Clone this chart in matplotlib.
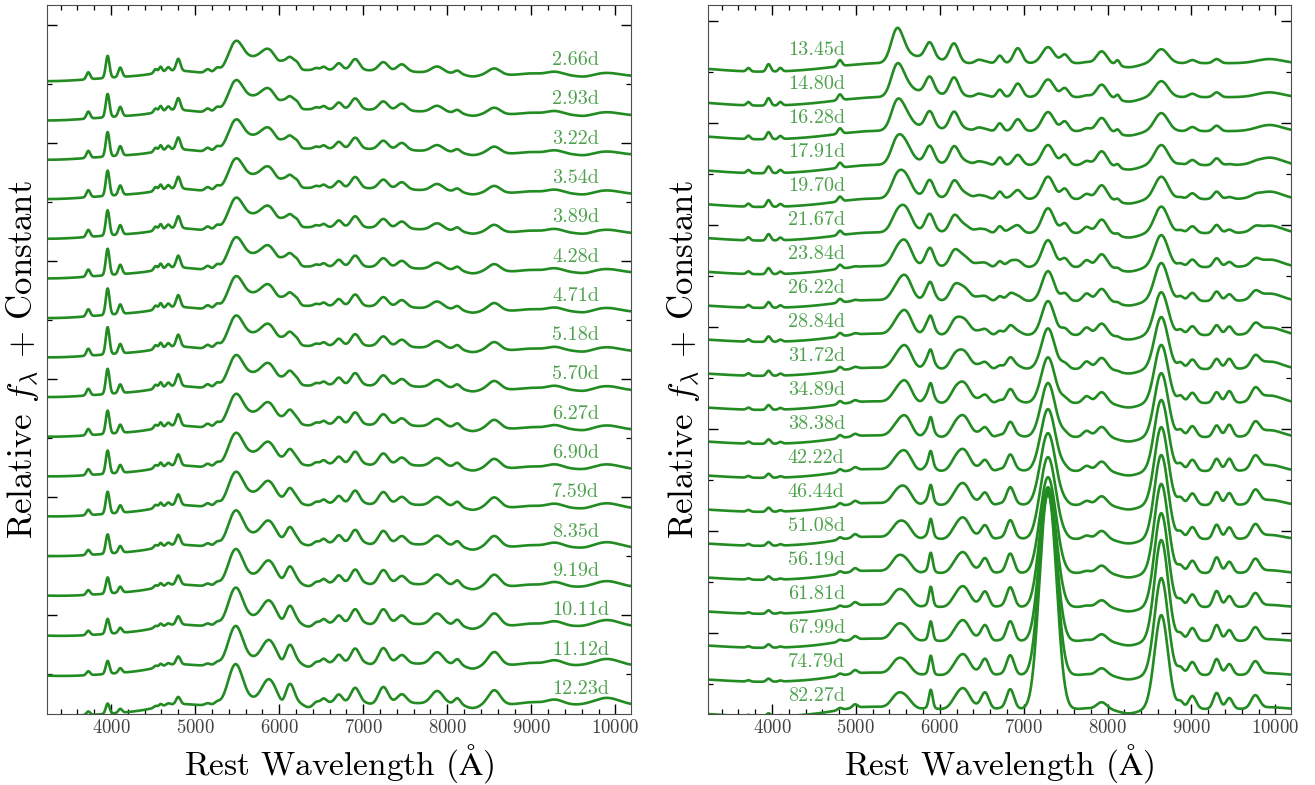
import matplotlib.pyplot as plt
import numpy as np
from matplotlib.ticker import MultipleLocator

plt.rcParams["font.family"] = "serif"
plt.rcParams["font.serif"] = ["cmr10"]
plt.rcParams["mathtext.fontset"] = "cm"
plt.rcParams["axes.unicode_minus"] = False
plt.rcParams["axes.formatter.use_mathtext"] = True

# epochs (rest-frame days) for the two panels
early_days = [2.66, 2.93, 3.22, 3.54, 3.89, 4.28, 4.71, 5.18, 5.70, 6.27,
              6.90, 7.59, 8.35, 9.19, 10.11, 11.12, 12.23]
late_days = [13.45, 14.80, 16.28, 17.91, 19.70, 21.67, 23.84, 26.22, 28.84,
             31.72, 34.89, 38.38, 42.22, 46.44, 51.08, 56.19, 61.81, 67.99,
             74.79, 82.27]

# spectral components of the early spectra: centre (A), width (A),
# and strength at every early epoch (in units of the offset between spectra)
early_line_wave = [3240, 3600, 6600, 3730, 3960, 4110, 4530, 4590, 4680, 4750,
                   4800, 5150, 5260, 5480, 5720, 5880, 6040, 6130, 6215, 6350,
                   6440, 6530, 6710, 6905, 7110, 7240, 7460, 7880, 8120, 8300,
                   8560, 9000, 9280, 9640, 9900]
early_line_width = [550, 900, 1150, 22, 22, 22, 20, 18, 22, 200,
                    25, 30, 30, 85, 180, 80, 35, 50, 30, 60,
                    30, 30, 40, 50, 50, 55, 55, 70, 35, 80,
                    70, 120, 100, 80, 150]
early_line_amp = [
    [-0.13, -0.13, -0.13, -0.13, -0.13, -0.13, -0.13, -0.12, -0.12, -0.11, -0.10, -0.10, -0.09, -0.08, -0.07, -0.07, -0.06],
    [0.00, 0.00, 0.00, 0.00, -0.01, -0.02, -0.03, -0.04, -0.05, -0.07, -0.09, -0.11, -0.13, -0.15, -0.18, -0.20, -0.22],
    [0.16, 0.16, 0.16, 0.16, 0.16, 0.16, 0.16, 0.15, 0.15, 0.15, 0.14, 0.14, 0.13, 0.11, 0.09, 0.08, 0.07],
    [0.18, 0.18, 0.18, 0.18, 0.18, 0.18, 0.18, 0.18, 0.17, 0.16, 0.15, 0.14, 0.13, 0.12, 0.11, 0.10, 0.09],
    [0.56, 0.59, 0.62, 0.64, 0.64, 0.67, 0.67, 0.69, 0.64, 0.59, 0.59, 0.56, 0.49, 0.41, 0.38, 0.33, 0.26],
    [0.24, 0.24, 0.24, 0.24, 0.24, 0.24, 0.24, 0.24, 0.22, 0.21, 0.20, 0.19, 0.17, 0.15, 0.13, 0.12, 0.10],
    [0.10, 0.10, 0.10, 0.10, 0.10, 0.10, 0.10, 0.10, 0.10, 0.09, 0.08, 0.08, 0.07, 0.06, 0.05, 0.05, 0.04],
    [0.14, 0.14, 0.14, 0.14, 0.14, 0.14, 0.14, 0.14, 0.14, 0.13, 0.12, 0.11, 0.10, 0.09, 0.08, 0.07, 0.06],
    [0.10, 0.10, 0.10, 0.10, 0.10, 0.10, 0.10, 0.10, 0.10, 0.09, 0.08, 0.08, 0.07, 0.06, 0.05, 0.05, 0.04],
    [0.10, 0.10, 0.10, 0.10, 0.10, 0.10, 0.10, 0.10, 0.10, 0.10, 0.10, 0.10, 0.10, 0.10, 0.10, 0.10, 0.10],
    [0.30, 0.30, 0.30, 0.30, 0.30, 0.30, 0.30, 0.30, 0.30, 0.29, 0.28, 0.27, 0.25, 0.23, 0.21, 0.20, 0.18],
    [0.09, 0.09, 0.09, 0.09, 0.09, 0.09, 0.09, 0.09, 0.09, 0.09, 0.08, 0.08, 0.07, 0.06, 0.06, 0.05, 0.05],
    [0.10, 0.10, 0.10, 0.10, 0.10, 0.10, 0.10, 0.10, 0.10, 0.10, 0.09, 0.09, 0.08, 0.07, 0.07, 0.06, 0.06],
    [0.65, 0.65, 0.65, 0.66, 0.66, 0.66, 0.67, 0.68, 0.68, 0.70, 0.72, 0.74, 0.78, 0.83, 0.88, 0.93, 0.98],
    [0.35, 0.35, 0.35, 0.35, 0.35, 0.34, 0.34, 0.33, 0.32, 0.31, 0.30, 0.28, 0.25, 0.21, 0.17, 0.13, 0.10],
    [0.32, 0.32, 0.32, 0.33, 0.33, 0.33, 0.34, 0.35, 0.36, 0.37, 0.38, 0.40, 0.42, 0.45, 0.48, 0.51, 0.54],
    [0.08, 0.08, 0.08, 0.08, 0.08, 0.08, 0.07, 0.06, 0.05, 0.04, 0.02, 0.00, -0.02, -0.04, -0.06, -0.08, -0.10],
    [0.31, 0.31, 0.31, 0.31, 0.31, 0.32, 0.32, 0.33, 0.34, 0.35, 0.36, 0.37, 0.39, 0.41, 0.43, 0.45, 0.47],
    [0.13, 0.13, 0.13, 0.13, 0.13, 0.12, 0.12, 0.11, 0.10, 0.09, 0.08, 0.07, 0.06, 0.04, 0.03, 0.02, 0.00],
    [0.00, 0.00, 0.00, 0.00, 0.00, 0.00, 0.00, -0.01, -0.02, -0.03, -0.04, -0.05, -0.06, -0.08, -0.09, -0.10, -0.12],
    [0.05, 0.05, 0.05, 0.05, 0.05, 0.05, 0.05, 0.05, 0.05, 0.05, 0.05, 0.05, 0.05, 0.05, 0.05, 0.05, 0.05],
    [0.08, 0.08, 0.08, 0.08, 0.08, 0.08, 0.08, 0.08, 0.08, 0.08, 0.09, 0.09, 0.10, 0.10, 0.10, 0.10, 0.10],
    [0.17, 0.17, 0.17, 0.17, 0.17, 0.17, 0.17, 0.17, 0.18, 0.18, 0.18, 0.18, 0.19, 0.19, 0.19, 0.20, 0.20],
    [0.28, 0.28, 0.28, 0.28, 0.28, 0.28, 0.29, 0.29, 0.30, 0.30, 0.31, 0.32, 0.33, 0.34, 0.35, 0.36, 0.37],
    [0.00, 0.00, 0.00, 0.00, 0.00, 0.00, 0.00, 0.00, -0.01, -0.01, -0.02, -0.02, -0.03, -0.03, -0.03, -0.04, -0.04],
    [0.22, 0.22, 0.22, 0.23, 0.23, 0.23, 0.24, 0.25, 0.26, 0.27, 0.28, 0.30, 0.32, 0.34, 0.36, 0.38, 0.40],
    [0.18, 0.18, 0.18, 0.18, 0.18, 0.18, 0.18, 0.18, 0.18, 0.18, 0.19, 0.19, 0.20, 0.20, 0.21, 0.21, 0.22],
    [0.16, 0.16, 0.16, 0.17, 0.17, 0.17, 0.18, 0.18, 0.19, 0.20, 0.21, 0.22, 0.24, 0.26, 0.28, 0.30, 0.32],
    [0.08, 0.08, 0.08, 0.08, 0.09, 0.09, 0.09, 0.10, 0.10, 0.11, 0.11, 0.12, 0.12, 0.13, 0.14, 0.14, 0.15],
    [-0.06, -0.06, -0.06, -0.06, -0.06, -0.07, -0.07, -0.07, -0.07, -0.08, -0.08, -0.08, -0.09, -0.09, -0.09, -0.10, -0.10],
    [0.16, 0.16, 0.17, 0.17, 0.18, 0.18, 0.19, 0.20, 0.21, 0.22, 0.23, 0.25, 0.27, 0.29, 0.31, 0.33, 0.36],
    [0.05, 0.05, 0.05, 0.05, 0.05, 0.05, 0.05, 0.05, 0.05, 0.05, 0.05, 0.05, 0.05, 0.05, 0.06, 0.06, 0.06],
    [0.10, 0.10, 0.10, 0.10, 0.10, 0.10, 0.10, 0.10, 0.11, 0.11, 0.11, 0.11, 0.12, 0.12, 0.12, 0.13, 0.13],
    [-0.03, -0.03, -0.03, -0.03, -0.03, -0.03, -0.03, -0.03, -0.03, -0.03, -0.02, -0.02, -0.02, -0.01, -0.01, 0.00, 0.00],
    [0.08, 0.08, 0.08, 0.09, 0.09, 0.09, 0.10, 0.10, 0.11, 0.11, 0.12, 0.13, 0.14, 0.15, 0.16, 0.17, 0.18],
]

# spectral components of the later spectra
late_line_wave = [3900, 3720, 3960, 4100, 5100, 4810, 4990, 5490, 5600, 5800,
                  5880, 5893, 6170, 6280, 6460, 6540, 6715, 6930, 6840, 7290,
                  7240, 7340, 7490, 7750, 7930, 8120, 8250, 8640, 8870, 9010,
                  9300, 9450, 9760, 9930]
late_line_width = [750, 22, 25, 22, 300, 25, 30, 70, 70, 180,
                   50, 22, 55, 80, 40, 45, 35, 50, 45, 72,
                   80, 80, 45, 45, 60, 25, 120, 80, 35, 45,
                   40, 40, 50, 150]
late_line_amp = [
    [-0.25, -0.25, -0.24, -0.24, -0.23, -0.22, -0.21, -0.20, -0.20, -0.20, -0.20, -0.20, -0.20, -0.20, -0.20, -0.20, -0.20, -0.20, -0.20, -0.22],
    [0.10, 0.10, 0.10, 0.09, 0.09, 0.09, 0.08, 0.08, 0.07, 0.07, 0.06, 0.06, 0.05, 0.05, 0.05, 0.04, 0.04, 0.04, 0.04, 0.04],
    [0.22, 0.22, 0.21, 0.20, 0.20, 0.19, 0.18, 0.17, 0.16, 0.15, 0.14, 0.13, 0.12, 0.12, 0.11, 0.10, 0.10, 0.10, 0.09, 0.09],
    [0.10, 0.10, 0.09, 0.09, 0.08, 0.08, 0.07, 0.07, 0.06, 0.06, 0.05, 0.05, 0.04, 0.04, 0.04, 0.03, 0.03, 0.03, 0.03, 0.03],
    [0.05, 0.05, 0.06, 0.06, 0.07, 0.07, 0.08, 0.08, 0.09, 0.09, 0.10, 0.10, 0.11, 0.11, 0.12, 0.12, 0.12, 0.12, 0.12, 0.12],
    [0.18, 0.17, 0.16, 0.15, 0.14, 0.13, 0.12, 0.11, 0.10, 0.10, 0.09, 0.09, 0.08, 0.08, 0.07, 0.07, 0.06, 0.06, 0.06, 0.06],
    [0.00, 0.00, 0.00, 0.00, 0.00, 0.00, 0.02, 0.03, 0.04, 0.05, 0.06, 0.07, 0.08, 0.09, 0.10, 0.10, 0.10, 0.10, 0.10, 0.10],
    [0.95, 0.88, 0.80, 0.70, 0.60, 0.50, 0.42, 0.36, 0.33, 0.31, 0.30, 0.30, 0.31, 0.33, 0.35, 0.38, 0.38, 0.37, 0.36, 0.35],
    [0.15, 0.25, 0.35, 0.45, 0.52, 0.58, 0.62, 0.62, 0.60, 0.58, 0.55, 0.52, 0.48, 0.42, 0.36, 0.31, 0.30, 0.30, 0.29, 0.28],
    [0.20, 0.18, 0.15, 0.12, 0.10, 0.08, 0.05, 0.03, 0.02, 0.01, 0.00, 0.00, 0.00, 0.00, 0.00, 0.00, 0.00, 0.00, 0.00, 0.00],
    [0.44, 0.45, 0.46, 0.47, 0.48, 0.50, 0.50, 0.48, 0.45, 0.40, 0.35, 0.30, 0.25, 0.20, 0.15, 0.10, 0.08, 0.06, 0.05, 0.05],
    [0.00, 0.00, 0.00, 0.00, 0.00, 0.00, 0.03, 0.07, 0.12, 0.18, 0.25, 0.30, 0.35, 0.40, 0.45, 0.50, 0.52, 0.52, 0.52, 0.52],
    [0.56, 0.55, 0.53, 0.50, 0.47, 0.43, 0.38, 0.33, 0.28, 0.24, 0.20, 0.17, 0.15, 0.13, 0.12, 0.11, 0.10, 0.10, 0.10, 0.10],
    [0.00, 0.03, 0.07, 0.12, 0.18, 0.24, 0.32, 0.40, 0.47, 0.53, 0.60, 0.62, 0.63, 0.63, 0.62, 0.60, 0.60, 0.60, 0.60, 0.60],
    [0.09, 0.09, 0.09, 0.09, 0.09, 0.09, 0.08, 0.08, 0.07, 0.07, 0.06, 0.06, 0.05, 0.05, 0.05, 0.05, 0.05, 0.05, 0.05, 0.05],
    [0.05, 0.05, 0.06, 0.07, 0.08, 0.10, 0.12, 0.14, 0.17, 0.20, 0.24, 0.28, 0.32, 0.36, 0.40, 0.43, 0.45, 0.46, 0.47, 0.48],
    [0.22, 0.22, 0.23, 0.23, 0.22, 0.20, 0.17, 0.14, 0.12, 0.10, 0.08, 0.06, 0.05, 0.04, 0.03, 0.02, 0.02, 0.02, 0.02, 0.02],
    [0.44, 0.40, 0.35, 0.30, 0.26, 0.22, 0.18, 0.14, 0.10, 0.08, 0.06, 0.04, 0.03, 0.02, 0.02, 0.00, 0.00, 0.00, 0.00, 0.00],
    [0.00, 0.00, 0.00, 0.00, 0.04, 0.09, 0.15, 0.21, 0.27, 0.33, 0.40, 0.44, 0.48, 0.52, 0.55, 0.57, 0.58, 0.58, 0.58, 0.58],
    # [Ca II] 7291,7324: single core early, blended pair later
    [0.47, 0.52, 0.56, 0.59, 0.66, 0.73, 0.79, 0.88, 0.90, 0.90, 0.85, 0.80, 0.70, 0.60, 0.50, 0.40, 0.30, 0.20, 0.10, 0.00],
    [0.00, 0.00, 0.00, 0.00, 0.00, 0.00, 0.00, 0.00, 0.06, 0.18, 0.30, 0.48, 0.68, 0.92, 1.16, 1.47, 1.96, 2.50, 3.24, 3.89],
    [0.00, 0.00, 0.00, 0.00, 0.00, 0.00, 0.00, 0.00, 0.06, 0.18, 0.30, 0.48, 0.68, 0.92, 1.16, 1.47, 1.96, 2.50, 3.24, 3.89],
    [0.25, 0.26, 0.28, 0.30, 0.30, 0.28, 0.25, 0.22, 0.18, 0.15, 0.12, 0.10, 0.08, 0.06, 0.05, 0.04, 0.03, 0.03, 0.03, 0.03],
    [0.03, 0.05, 0.08, 0.12, 0.15, 0.18, 0.20, 0.22, 0.22, 0.22, 0.20, 0.18, 0.15, 0.12, 0.10, 0.06, 0.04, 0.03, 0.02, 0.02],
    [0.35, 0.37, 0.39, 0.41, 0.41, 0.40, 0.38, 0.36, 0.34, 0.33, 0.32, 0.30, 0.28, 0.26, 0.24, 0.22, 0.20, 0.20, 0.20, 0.20],
    [0.15, 0.14, 0.12, 0.10, 0.08, 0.06, 0.05, 0.04, 0.03, 0.02, 0.00, 0.00, 0.00, 0.00, 0.00, 0.00, 0.00, 0.00, 0.00, 0.00],
    [-0.12, -0.13, -0.13, -0.13, -0.13, -0.13, -0.13, -0.13, -0.13, -0.13, -0.13, -0.13, -0.13, -0.13, -0.13, -0.13, -0.13, -0.13, -0.13, -0.13],
    # Ca II near-infrared triplet
    [0.41, 0.47, 0.53, 0.59, 0.66, 0.78, 0.94, 1.12, 1.26, 1.53, 1.71, 1.88, 2.09, 2.29, 2.47, 2.62, 2.76, 2.97, 2.85, 2.76],
    [0.00, 0.00, 0.00, 0.03, 0.05, 0.08, 0.10, 0.13, 0.15, 0.18, 0.20, 0.20, 0.20, 0.20, 0.20, 0.20, 0.20, 0.20, 0.20, 0.20],
    [0.09, 0.10, 0.12, 0.15, 0.17, 0.20, 0.22, 0.24, 0.26, 0.28, 0.30, 0.32, 0.33, 0.34, 0.35, 0.36, 0.37, 0.38, 0.38, 0.38],
    [0.12, 0.14, 0.16, 0.20, 0.22, 0.24, 0.26, 0.28, 0.29, 0.30, 0.32, 0.34, 0.36, 0.38, 0.42, 0.46, 0.47, 0.47, 0.47, 0.47],
    [0.00, 0.00, 0.00, 0.03, 0.06, 0.10, 0.15, 0.20, 0.25, 0.30, 0.35, 0.36, 0.36, 0.35, 0.34, 0.33, 0.32, 0.32, 0.32, 0.32],
    [0.00, 0.00, 0.00, 0.02, 0.05, 0.10, 0.15, 0.20, 0.25, 0.30, 0.35, 0.36, 0.37, 0.38, 0.38, 0.38, 0.38, 0.38, 0.38, 0.38],
    [0.12, 0.14, 0.18, 0.22, 0.22, 0.22, 0.22, 0.22, 0.22, 0.22, 0.22, 0.20, 0.18, 0.15, 0.12, 0.08, 0.06, 0.05, 0.05, 0.05],
]

wave = np.linspace(3238, 10190, 2500)


def build_flux(centres, widths, table, k):
    flux = np.zeros_like(wave)
    for c, w, row in zip(centres, widths, table):
        flux += row[k] * np.exp(-0.5 * ((wave - c) / w) ** 2)
    return flux


fig = plt.figure(figsize=(13.15, 7.85), dpi=100)
ax1 = fig.add_axes([0.0357, 0.0904, 0.4441, 0.9032])
ax2 = fig.add_axes([0.5384, 0.0904, 0.4433, 0.9032])

green = "forestgreen"

# early panel: spectra stacked top to bottom
n = len(early_days)
for k, day in enumerate(early_days):
    base = (n - 1 - k) + 0.7
    flux = build_flux(early_line_wave, early_line_width, early_line_amp, k)
    ax1.plot(wave, flux + base, color=green, lw=1.9)
    ax1.text(9250, base + 0.41, f"{day:.2f}d", color=green, alpha=0.8,
             fontsize=14.5, ha="left", va="center")
ax1.set_ylim(0.47, 18.51)

# late panel
n = len(late_days)
for k, day in enumerate(late_days):
    base = (n - 1 - k) + 0.76
    flux = build_flux(late_line_wave, late_line_width, late_line_amp, k)
    ax2.plot(wave, flux + base, color=green, lw=1.9)
    ax2.text(4190, base + 0.38, f"{day:.2f}d", color=green, alpha=0.8,
             fontsize=14.5, ha="left", va="center")
ax2.set_ylim(0.61, 21.47)

for ax in (ax1, ax2):
    ax.set_xlim(3238, 10185)
    ax.xaxis.set_major_locator(MultipleLocator(1000))
    ax.xaxis.set_minor_locator(MultipleLocator(200))
    ax.yaxis.set_major_locator(MultipleLocator(3))
    ax.yaxis.set_minor_locator(MultipleLocator(1.5))
    ax.tick_params(which="both", direction="in", top=True, right=True,
                   labelsize=13.5, labelcolor="0.25")
    ax.tick_params(which="major", length=7, width=1)
    ax.tick_params(which="minor", length=3.5, width=0.9)
    ax.set_yticklabels([])
    ax.set_xlabel(r"Rest Wavelength ($\mathrm{\AA}$)", fontsize=24)
    ax.set_ylabel(r"Relative $f_\lambda$ + Constant", fontsize=25, labelpad=1)
    for sp in ax.spines.values():
        sp.set_color("0.3")

fig.savefig("out.png", dpi=100)
